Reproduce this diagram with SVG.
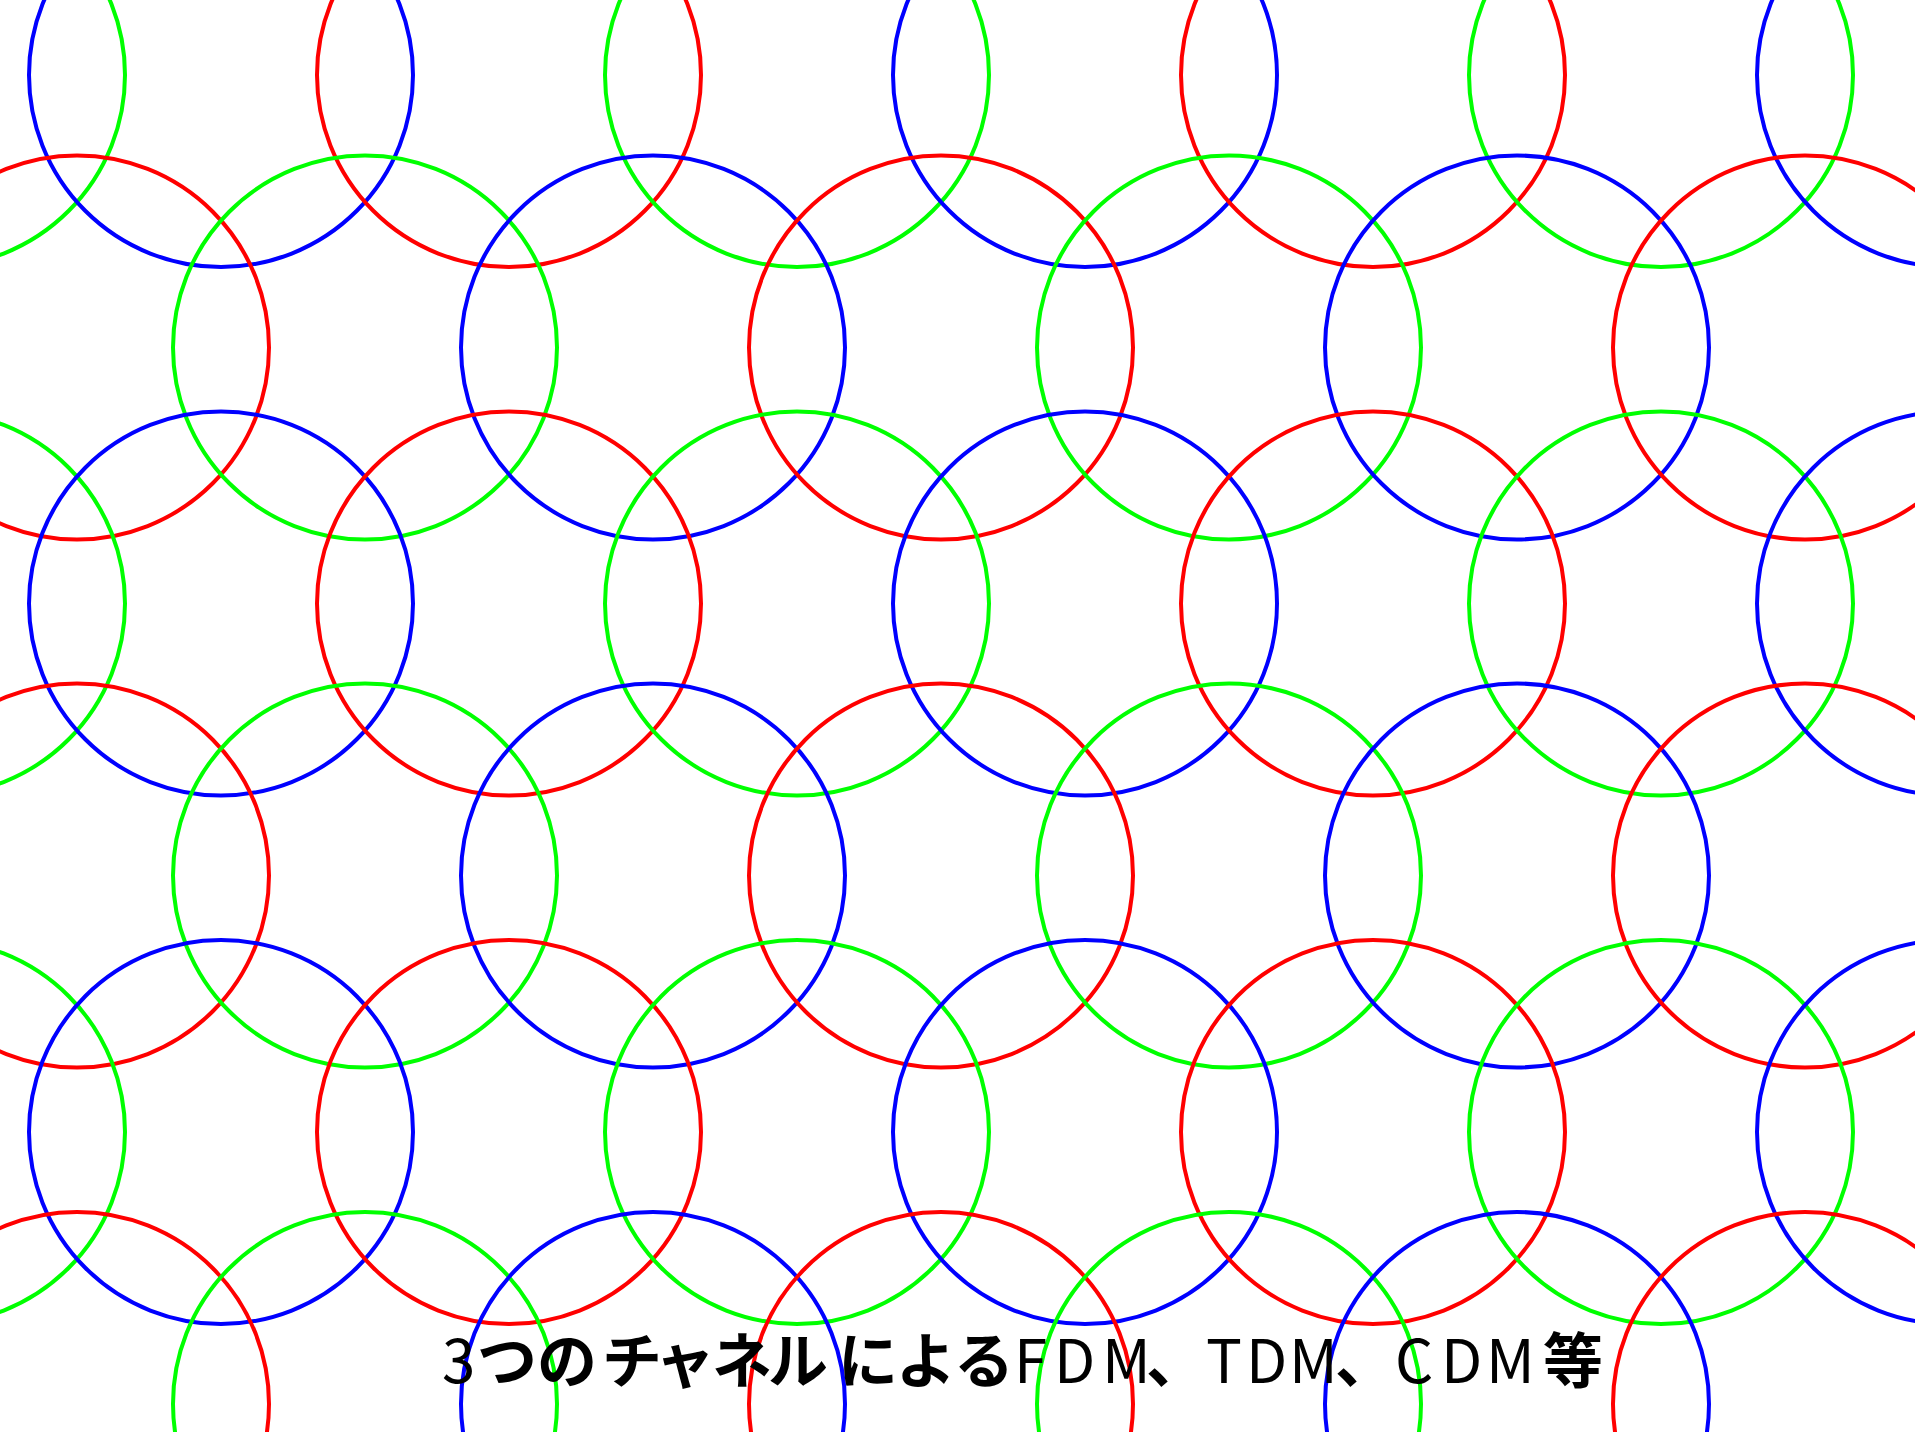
<svg xmlns="http://www.w3.org/2000/svg" width="1915" height="1432" viewBox="0 0 1915 1432">
<style>
circle{fill:none;stroke-width:4}
.r{stroke:#ff0000}
.g{stroke:#00ff00}
.b{stroke:#0000ff}
.t{font-family:"Noto Sans CJK JP","Noto Sans",sans-serif;font-size:60px;fill:#000;font-weight:700}
.l{font-weight:400}
</style>
<rect width="1915" height="1432" fill="#fff"/>
<g id="row0">
<circle class="g" cx="-67" cy="75" r="192"/>
<circle class="b" cx="221" cy="75" r="192"/>
<circle class="r" cx="509" cy="75" r="192"/>
<circle class="g" cx="797" cy="75" r="192"/>
<circle class="b" cx="1085" cy="75" r="192"/>
<circle class="r" cx="1373" cy="75" r="192"/>
<circle class="g" cx="1661" cy="75" r="192"/>
<circle class="b" cx="1949" cy="75" r="192"/>
</g>
<g id="row1">
<circle class="r" cx="77" cy="347.5" r="192"/>
<circle class="g" cx="365" cy="347.5" r="192"/>
<circle class="b" cx="653" cy="347.5" r="192"/>
<circle class="r" cx="941" cy="347.5" r="192"/>
<circle class="g" cx="1229" cy="347.5" r="192"/>
<circle class="b" cx="1517" cy="347.5" r="192"/>
<circle class="r" cx="1805" cy="347.5" r="192"/>
</g>
<g id="row2">
<circle class="g" cx="-67" cy="603.5" r="192"/>
<circle class="b" cx="221" cy="603.5" r="192"/>
<circle class="r" cx="509" cy="603.5" r="192"/>
<circle class="g" cx="797" cy="603.5" r="192"/>
<circle class="b" cx="1085" cy="603.5" r="192"/>
<circle class="r" cx="1373" cy="603.5" r="192"/>
<circle class="g" cx="1661" cy="603.5" r="192"/>
<circle class="b" cx="1949" cy="603.5" r="192"/>
</g>
<g id="row3">
<circle class="r" cx="77" cy="875.5" r="192"/>
<circle class="g" cx="365" cy="875.5" r="192"/>
<circle class="b" cx="653" cy="875.5" r="192"/>
<circle class="r" cx="941" cy="875.5" r="192"/>
<circle class="g" cx="1229" cy="875.5" r="192"/>
<circle class="b" cx="1517" cy="875.5" r="192"/>
<circle class="r" cx="1805" cy="875.5" r="192"/>
</g>
<g id="row4">
<circle class="g" cx="-67" cy="1132" r="192"/>
<circle class="b" cx="221" cy="1132" r="192"/>
<circle class="r" cx="509" cy="1132" r="192"/>
<circle class="g" cx="797" cy="1132" r="192"/>
<circle class="b" cx="1085" cy="1132" r="192"/>
<circle class="r" cx="1373" cy="1132" r="192"/>
<circle class="g" cx="1661" cy="1132" r="192"/>
<circle class="b" cx="1949" cy="1132" r="192"/>
</g>
<g id="row5">
<circle class="r" cx="77" cy="1404" r="192"/>
<circle class="g" cx="365" cy="1404" r="192"/>
<circle class="b" cx="653" cy="1404" r="192"/>
<circle class="r" cx="941" cy="1404" r="192"/>
<circle class="g" cx="1229" cy="1404" r="192"/>
<circle class="b" cx="1517" cy="1404" r="192"/>
<circle class="r" cx="1805" cy="1404" r="192"/>
</g>
<g id="caption">
<text class="t" y="1383"><tspan class="l" x="442">3</tspan><tspan x="477 537 602 655 712 768 838 896 954">つのチャネルによる</tspan><tspan class="l" x="1014 1054 1102">FDM</tspan><tspan x="1146">、</tspan><tspan class="l" x="1206 1246 1289">TDM</tspan><tspan x="1335">、</tspan><tspan class="l" x="1395 1441 1486">CDM</tspan><tspan x="1543">等</tspan></text>
</g>
</svg>
